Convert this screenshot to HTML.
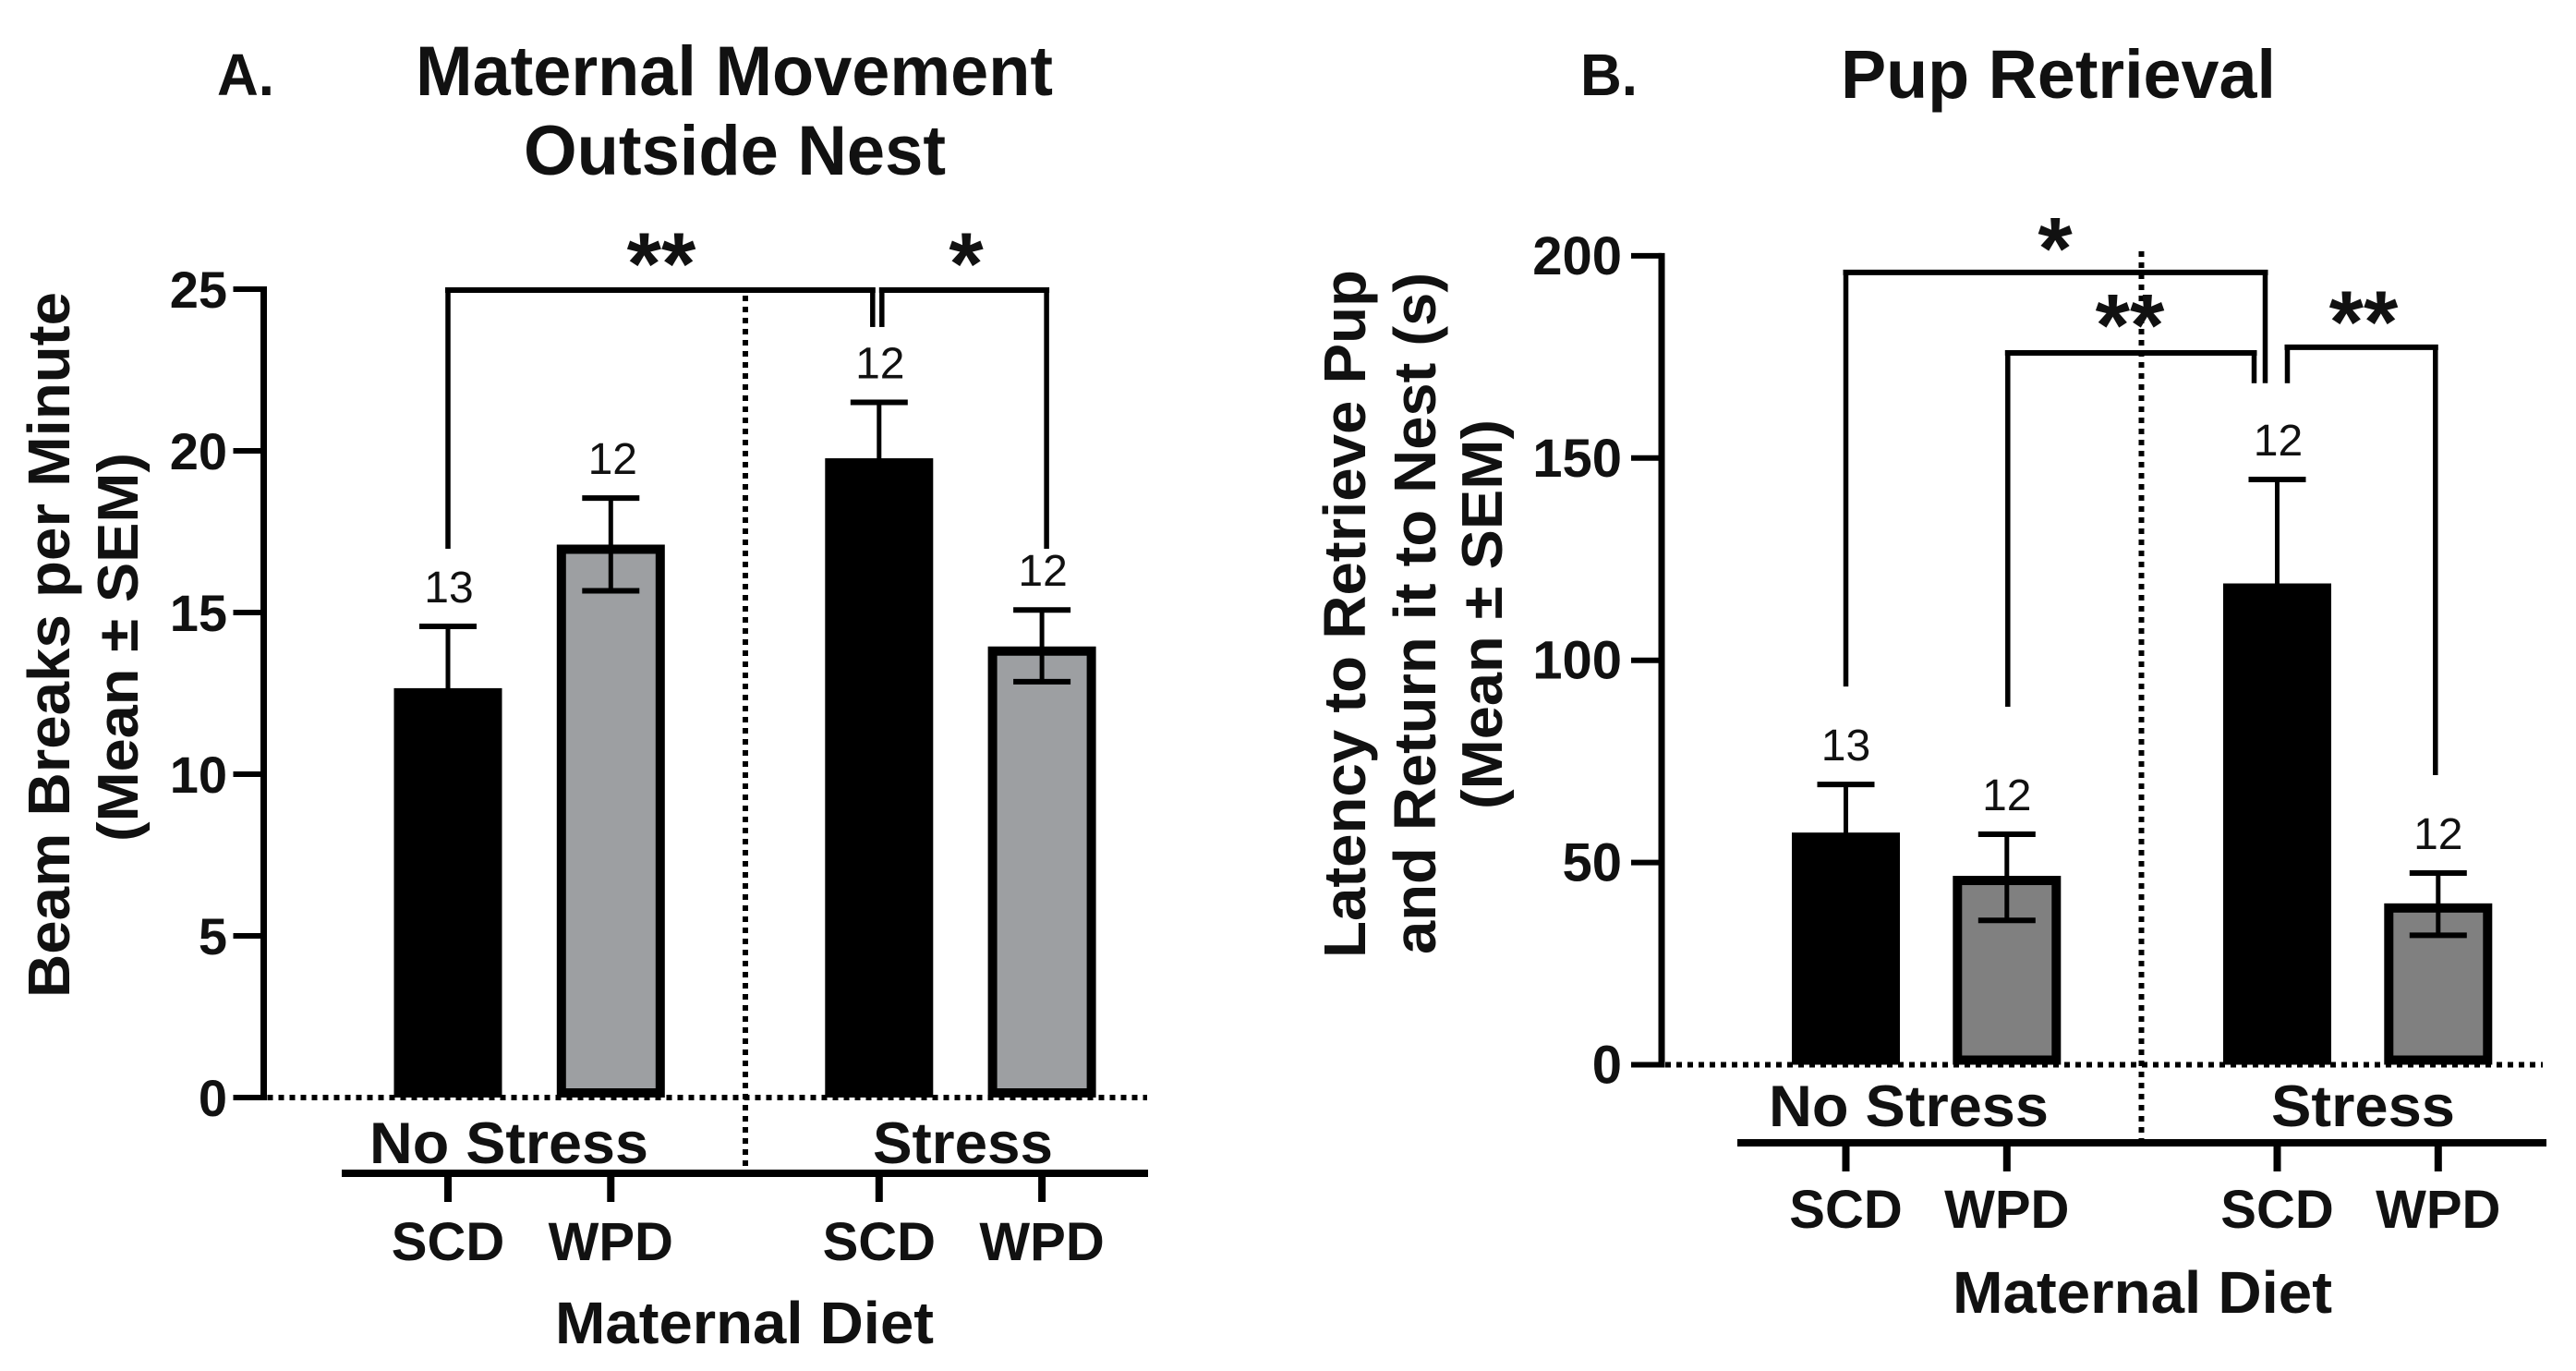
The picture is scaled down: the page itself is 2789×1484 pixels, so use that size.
<!DOCTYPE html>
<html lang="en">
<head>
<meta charset="utf-8">
<title>Maternal Movement and Pup Retrieval</title>
<style>
  html, body { margin: 0; padding: 0; background: #fff; }
  svg { display: block; }
  text { font-family: "Liberation Sans", sans-serif; fill: #111; }
  .b { font-weight: 700; }
</style>
</head>
<body>
<svg id="fig" xmlns="http://www.w3.org/2000/svg" width="2789" height="1484" viewBox="0 0 2789 1484">
  <rect x="0" y="0" width="2789" height="1484" fill="#fff"/>

  <g id="panelA">
    <text class="b" x="235" y="103" font-size="64" textLength="62" lengthAdjust="spacingAndGlyphs">A.</text>
    <text class="b" x="450" y="103" font-size="76" textLength="690" lengthAdjust="spacingAndGlyphs">Maternal Movement</text>
    <text class="b" x="567" y="189" font-size="76" textLength="457" lengthAdjust="spacingAndGlyphs">Outside Nest</text>
    <text class="b" transform="translate(75 1080) rotate(-90)" font-size="64" textLength="764" lengthAdjust="spacingAndGlyphs">Beam Breaks per Minute</text>
    <text class="b" transform="translate(149 911) rotate(-90)" font-size="62" textLength="421" lengthAdjust="spacingAndGlyphs">(Mean ± SEM)</text>
    <text class="b" x="400" y="1259" font-size="63" textLength="302" lengthAdjust="spacingAndGlyphs">No Stress</text>
    <text class="b" x="945" y="1259" font-size="63" textLength="195" lengthAdjust="spacingAndGlyphs">Stress</text>
    <text class="b" x="601" y="1454" font-size="64" textLength="410" lengthAdjust="spacingAndGlyphs">Maternal Diet</text>
  </g>

  <g id="panelB">
    <text class="b" x="1711" y="103" font-size="64" textLength="62" lengthAdjust="spacingAndGlyphs">B.</text>
    <text class="b" x="1993" y="106" font-size="74" textLength="471" lengthAdjust="spacingAndGlyphs">Pup Retrieval</text>
    <text class="b" transform="translate(1478 1037) rotate(-90)" font-size="64" textLength="745" lengthAdjust="spacingAndGlyphs">Latency to Retrieve Pup</text>
    <text class="b" transform="translate(1554 1033) rotate(-90)" font-size="64" textLength="738" lengthAdjust="spacingAndGlyphs">and Return it to Nest (s)</text>
    <text class="b" transform="translate(1626 876) rotate(-90)" font-size="62" textLength="422" lengthAdjust="spacingAndGlyphs">(Mean ± SEM)</text>
    <text class="b" x="1915" y="1219" font-size="63" textLength="303" lengthAdjust="spacingAndGlyphs">No Stress</text>
    <text class="b" x="2459" y="1219" font-size="63" textLength="199" lengthAdjust="spacingAndGlyphs">Stress</text>
    <text class="b" x="2114" y="1421" font-size="64" textLength="411" lengthAdjust="spacingAndGlyphs">Maternal Diet</text>
  </g>
</svg>

<script>
// Shared category data
const categories = ["SCD", "WPD", "SCD", "WPD"];
const groupOfBar = [0, 0, 1, 1];

// Panel A data
const aTicks = [0, 5, 10, 15, 20, 25];
const aMeans = [12.66, 17.1, 19.77, 13.95];
const aUpper = [14.57, 18.54, 21.5, 15.08];
const aLower = [10.75, 15.67, 18.05, 12.86];
const aCounts = ["13", "12", "12", "12"];

// Panel B data
const bTicks = [0, 50, 100, 150, 200];
const bMeans = [57.4, 46.7, 119, 39.9];
const bUpper = [69.3, 57, 144.7, 47.4];
const bLower = [45.5, 35.7, 93.3, 32];
const bCounts = ["13", "12", "12", "12"];

const NS = "http://www.w3.org/2000/svg";
const GRAY_A = "#9d9fa2";
const GRAY_B = "#808080";

function make(parent, tag, name, attrs) {
  const el = document.createElementNS(NS, tag);
  
  
  for (const k in attrs) el.setAttribute(k, attrs[k]);
  parent.appendChild(el);
  return el;
}

function line(parent, name, x1, y1, x2, y2, w, dash) {
  const attrs = { x1: x1, y1: y1, x2: x2, y2: y2, stroke: "#000", "stroke-width": w };
  if (dash) attrs["stroke-dasharray"] = dash;
  return make(parent, "line", name, attrs);
}

function label(parent, name, str, x, y, size, anchor, bold) {
  const t = make(parent, "text", name, { x: x, y: y, "font-size": size, "text-anchor": anchor });
  if (bold) t.setAttribute("class", "b");
  t.textContent = str;
  return t;
}

function drawPanel(cfg) {
  const g = document.getElementById(cfg.root);
  const y = v => cfg.y0 - v * cfg.yPerUnit;
  const x = i => cfg.x0 + i * cfg.step + groupOfBar[i] * cfg.gap;

  // zero reference line + group divider
  line(g, cfg.id + "-zero-line", cfg.axisX + 4, y(0), cfg.zeroEnd, y(0), 6, "6 6");
  line(g, cfg.id + "-group-divider", cfg.divX, cfg.divTop, cfg.divX, cfg.divBottom, 6, "6 6");

  // y axis
  line(g, cfg.id + "-y-axis", cfg.axisX, y(cfg.ticks[cfg.ticks.length - 1]) - 3, cfg.axisX, y(0) + 3, 7);
  cfg.ticks.forEach(t => {
    line(g, cfg.id + "-y-tick-" + t, cfg.axisX - 33, y(t), cfg.axisX, y(t), 6);
    label(g, cfg.id + "-y-tick-label-" + t, String(t), cfg.axisX - cfg.tickGap, y(t) + 20, cfg.tickSize, "end", true);
  });

  // bars
  const barW = 117, border = 10;
  cfg.means.forEach((m, i) => {
    const cx = x(i);
    const dark = i % 2 === 0;
    make(g, "rect", cfg.id + "-bar-" + i, {
      x: cx - barW / 2 + border / 2,
      y: y(m) + border / 2,
      width: barW - border,
      height: Math.max(0, y(0) - y(m) - border),
      fill: dark ? "#000" : cfg.gray,
      stroke: "#000",
      "stroke-width": border
    });
    // error bars
    line(g, cfg.id + "-error-stem-" + i, cx, y(cfg.upper[i]), cx, y(cfg.lower[i]), 5);
    line(g, cfg.id + "-error-cap-upper-" + i, cx - 31, y(cfg.upper[i]), cx + 31, y(cfg.upper[i]), 6);
    line(g, cfg.id + "-error-cap-lower-" + i, cx - 31, y(cfg.lower[i]), cx + 31, y(cfg.lower[i]), 6);
    // sample size
    label(g, cfg.id + "-n-label-" + i, cfg.counts[i], cx + cfg.countDx[i], y(cfg.upper[i]) - 26, 48, "middle", false);
    // category axis
    line(g, cfg.id + "-x-tick-" + i, cx, cfg.groupY, cx, cfg.tickEnd, 8);
    label(g, cfg.id + "-x-label-" + i, categories[i], cx, cfg.catY, 58, "middle", true);
  });
  line(g, cfg.id + "-group-axis", cfg.groupStart, cfg.groupY, cfg.groupEnd, cfg.groupY, 8);

  // significance brackets
  cfg.brackets.forEach((b, k) => {
    const lx = x(b.from) + b.fromDx, rx = x(b.to) + b.toDx, ty = y(b.level);
    line(g, cfg.id + "-bracket-top-" + k, lx - 3, ty, rx + 3, ty, 6);
    line(g, cfg.id + "-bracket-left-" + k, lx, ty, lx, y(b.fromDrop), 5.5);
    line(g, cfg.id + "-bracket-right-" + k, rx, ty, rx, y(b.toDrop), 5.5);
  });
  cfg.stars.forEach((s, k) => {
    label(g, cfg.id + "-significance-" + k, s.text, s.x, y(s.level), 96, "middle", true);
  });
}

drawPanel({
  root: "panelA", id: "panel-a", gray: GRAY_A,
  y0: 1188, yPerUnit: 35, x0: 485, step: 176.3, gap: 114.2,
  axisX: 285.5, tickGap: 39.5, tickSize: 56, zeroEnd: 1242, divX: 807, divTop: 320, divBottom: 1266,
  groupY: 1270, tickEnd: 1301, groupStart: 370, groupEnd: 1243, catY: 1364,
  ticks: aTicks, means: aMeans, upper: aUpper, lower: aLower, counts: aCounts,
  countDx: [1, 2, 1, 1],
  brackets: [
    { from: 0, fromDx: 0, to: 2, toDx: -7, level: 24.97, fromDrop: 16.97, toDrop: 23.83 },
    { from: 2, fromDx: 3, to: 3, toDx: 5, level: 24.97, fromDrop: 23.83, toDrop: 16.97 }
  ],
  stars: [
    { text: "**", x: 716, level: 24.84 },
    { text: "*", x: 1046, level: 24.84 }
  ]
});

drawPanel({
  root: "panelB", id: "panel-b", gray: GRAY_B,
  y0: 1152.5, yPerUnit: 4.378, x0: 1998.5, step: 174.3, gap: 118.4,
  axisX: 1799, tickGap: 43, tickSize: 58, zeroEnd: 2753, divX: 2318.5, divTop: 272, divBottom: 1233,
  groupY: 1237, tickEnd: 1268, groupStart: 1881, groupEnd: 2757, catY: 1329,
  ticks: bTicks, means: bMeans, upper: bUpper, lower: bLower, counts: bCounts,
  countDx: [0, 0, 1, 0],
  brackets: [
    { from: 0, fromDx: 0, to: 2, toDx: -13, level: 195.9, fromDrop: 93.5, toDrop: 168.5 },
    { from: 1, fromDx: 1, to: 2, toDx: -25, level: 176, fromDrop: 88.5, toDrop: 168.5 },
    { from: 2, fromDx: 11, to: 3, toDx: -3, level: 177.4, fromDrop: 168.5, toDrop: 71.6 }
  ],
  stars: [
    { text: "*", x: 2225, level: 194.3 },
    { text: "**", x: 2306, level: 175.3 },
    { text: "**", x: 2559, level: 176.1 }
  ]
});
</script>
</body>
</html>
